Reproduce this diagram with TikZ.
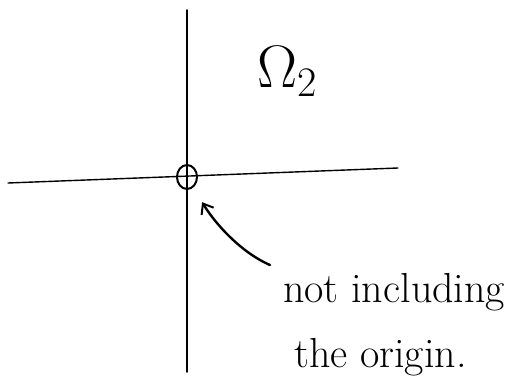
\RequirePackage{fix-cm}
\documentclass[tikz,border=0pt]{standalone}
\usetikzlibrary{arrows.meta,shapes.geometric}

\begin{document}
\begin{tikzpicture}[
    x=1pt, y=-1pt,
    axis/.style={line width=1.4pt, line cap=round},
    hole/.style={draw, ellipse, line width=2pt, minimum width=20pt, minimum height=24pt, inner sep=0pt},
    pointer/.style={line width=2.4pt, line cap=round, -{Straight Barb[length=9pt, width=14pt, line width=2pt]}},
    note/.style={anchor=base west, inner sep=0pt, font=\fontsize{42}{46}\selectfont},
  ]
  \useasboundingbox (0,0) rectangle (510,379);

  % --- axes -------------------------------------------------------------
  \coordinate (ytop) at (187,10);
  \coordinate (ybot) at (187,372);
  \coordinate (xleft) at (8,183);
  \coordinate (xright) at (398,168);
  \draw[axis] (ybot) -- (ytop);
  \draw[axis] (xleft) -- (xright);

  % --- region label and excluded origin ---------------------------------
  \node[font=\fontsize{60}{64}\selectfont] (omega) at (287,72) {$\Omega_2$};
  \node[hole] (origin) at (187,177) {};

  % --- note with pointer --------------------------------------------------
  \node[note] (line1) at (283,302) {not including};
  \node[note] (line2) at (294,367) {the origin.};
  \coordinate (tail) at (270,265);
  \draw[pointer, shorten >=17pt] (tail) .. controls (240,252) and (214,222) .. (origin);

\end{tikzpicture}
\end{document}
